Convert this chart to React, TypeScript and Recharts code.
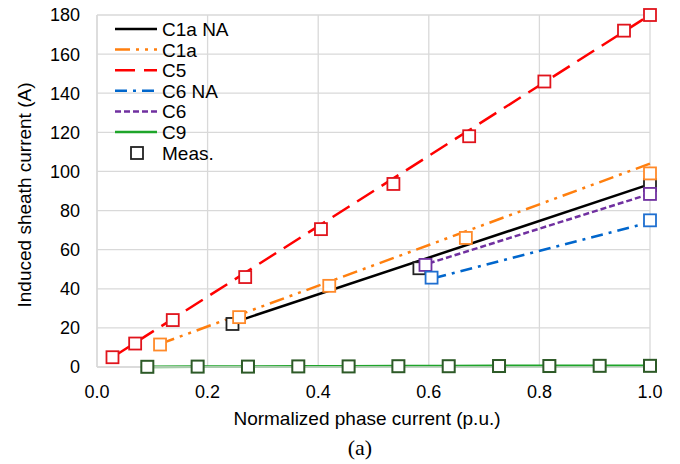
import { ComposedChart, Line, Scatter, XAxis, YAxis, CartesianGrid, Legend, Customized } from 'recharts';

// axis ticks
const xTicks = [0, 0.2, 0.4, 0.6, 0.8, 1.0];
const yTicks = [0, 20, 40, 60, 80, 100, 120, 140, 160, 180];

// model lines (start / end)
const c1aNaX = [0.26, 1.0];
const c1aNaY = [24, 93.5];
const c1aX = [0.114, 1.0];
const c1aY = [11.8, 104];
const c5X = [0.028, 1.0];
const c5Y = [5, 180];
const c6NaX = [0.61, 1.0];
const c6NaY = [45.5, 74];
const c6X = [0.6, 1.0];
const c6Y = [53, 88.5];

// measurements
const measC1aNaX = [0.245, 0.583, 1.0];
const measC1aNaY = [22, 50.5, 93];
const measC1aX = [0.114, 0.257, 0.42, 0.667, 1.0];
const measC1aY = [11.5, 25.5, 41.5, 66, 99];
const measC5X = [0.028, 0.069, 0.137, 0.268, 0.405, 0.536, 0.673, 0.809, 0.953, 1.0];
const measC5Y = [5, 12, 24, 46, 70.5, 93.6, 118, 146, 172, 180];
const measC6NaX = [0.605, 1.0];
const measC6NaY = [45.7, 75];
const measC6X = [0.594, 1.0];
const measC6Y = [52.2, 88.5];
const measC9X = [0.091, 0.182, 0.273, 0.364, 0.455, 0.545, 0.636, 0.727, 0.818, 0.909, 1.0];
const measC9Y = [0.1, 0.2, 0.2, 0.3, 0.3, 0.4, 0.4, 0.5, 0.5, 0.6, 0.6];

const zip = (xs: number[], ys: number[]) => xs.map((x, i) => ({ x, y: ys[i] }));

const FONT = '"Liberation Sans", Arial, sans-serif';

const legendItems = [
  { name: 'C1a NA', color: '#000000', dash: undefined },
  { name: 'C1a', color: '#ff7f0e', dash: '15 6 3 6 3 6' },
  { name: 'C5', color: '#ff0000', dash: '20 9' },
  { name: 'C6 NA', color: '#0066cc', dash: '12 6 3 6' },
  { name: 'C6', color: '#7030a0', dash: '6 3' },
  { name: 'C9', color: '#1ea52a', dash: undefined },
];

const square = (stroke: string, sw = 1.8) => (props: any) => {
  const { cx, cy } = props;
  return <rect x={cx - 6} y={cy - 6} width={12} height={12} fill="#fff" stroke={stroke} strokeWidth={sw} />;
};

function renderLegend() {
  return (
    <svg width={260} height={170} style={{ display: 'block' }}>
      {legendItems.map((it, i) => {
        const y = 29 + i * 20.6;
        return (
          <g key={it.name}>
            <line x1={115} x2={157} y1={y} y2={y} stroke={it.color} strokeWidth={2.5} strokeDasharray={it.dash} />
            <text x={162} y={y + 7} fontSize={19} fontFamily={FONT} fill="#000">{it.name}</text>
          </g>
        );
      })}
      <rect x={131} y={147} width={12} height={12} fill="#fff" stroke="#222" strokeWidth={1.8} />
      <text x={162} y={160} fontSize={19} fontFamily={FONT} fill="#000">Meas.</text>
    </svg>
  );
}

const Titles = () => (
  <g>
    <text x={367} y={425} textAnchor="middle" fontSize={19} fontFamily={FONT} fill="#000">
      Normalized phase current (p.u.)
    </text>
    <text x={360} y={455} textAnchor="middle" fontSize={22} fontFamily='"Liberation Serif", "Times New Roman", serif' fill="#000">
      (a)
    </text>
    <text
      x={31}
      y={195}
      transform="rotate(-90 31 195)"
      textAnchor="middle"
      fontSize={19}
      fontFamily={FONT}
      fill="#000"
    >
      Induced sheath current (A)
    </text>
  </g>
);

export default function App() {
  return (
    <div style={{ position: 'absolute', left: 0, top: 0, width: 680, height: 464, background: '#fff' }}>
      <ComposedChart width={680} height={464} margin={{ top: 15, right: 30, bottom: 0, left: 0 }}>
        <CartesianGrid stroke="#d9d9d9" strokeWidth={1.3} />
        <XAxis
          type="number"
          dataKey="x"
          domain={[0, 1]}
          ticks={xTicks}
          tickFormatter={(v: number) => v.toFixed(1)}
          tick={{ fill: '#000', fontSize: 18, fontFamily: FONT }}
          tickLine={false}
          tickSize={0}
          tickMargin={18}
          axisLine={{ stroke: '#d9d9d9', strokeWidth: 1.3 }}
          height={97}
        />
        <YAxis
          type="number"
          dataKey="y"
          domain={[0, 180]}
          ticks={yTicks}
          tick={{ fill: '#000', fontSize: 18, fontFamily: FONT }}
          tickLine={false}
          tickSize={0}
          tickMargin={17}
          axisLine={{ stroke: '#d9d9d9', strokeWidth: 1.3 }}
          width={97}
        />
        <Line data={zip(c5X, c5Y)} dataKey="y" stroke="#ff0000" strokeWidth={2.5} strokeDasharray="20 9" dot={false} isAnimationActive={false} />
        <Line data={zip(c1aX, c1aY)} dataKey="y" stroke="#ff7f0e" strokeWidth={2.5} strokeDasharray="15 6 3 6 3 6" dot={false} isAnimationActive={false} />
        <Line data={zip(c1aNaX, c1aNaY)} dataKey="y" stroke="#000000" strokeWidth={2.5} dot={false} isAnimationActive={false} />
        <Line data={zip(c6X, c6Y)} dataKey="y" stroke="#7030a0" strokeWidth={2.5} strokeDasharray="6 3" dot={false} isAnimationActive={false} />
        <Line data={zip(c6NaX, c6NaY)} dataKey="y" stroke="#0066cc" strokeWidth={2.5} strokeDasharray="12 6 3 6" dot={false} isAnimationActive={false} />
        <Line data={zip(measC9X, measC9Y)} dataKey="y" stroke="#1ea52a" strokeWidth={2.8} dot={false} isAnimationActive={false} />
        <Scatter data={zip(measC1aNaX, measC1aNaY)} dataKey="y" shape={square('#222')} isAnimationActive={false} />
        <Scatter data={zip(measC5X, measC5Y)} dataKey="y" shape={square('#e0141c')} isAnimationActive={false} />
        <Scatter data={zip(measC1aX, measC1aY)} dataKey="y" shape={square('#ff8a2a')} isAnimationActive={false} />
        <Scatter data={zip(measC6X, measC6Y)} dataKey="y" shape={square('#7030a0')} isAnimationActive={false} />
        <Scatter data={zip(measC6NaX, measC6NaY)} dataKey="y" shape={square('#1f6fd0')} isAnimationActive={false} />
        <Scatter data={zip(measC9X, measC9Y)} dataKey="y" shape={square('#2d5a27', 2)} isAnimationActive={false} />
        <Legend
          content={renderLegend}
          layout="horizontal"
          verticalAlign="middle"
          wrapperStyle={{ left: 0, top: 0, width: 260, height: 170 }}
        />
        <Customized component={Titles} />
      </ComposedChart>
    </div>
  );
}
